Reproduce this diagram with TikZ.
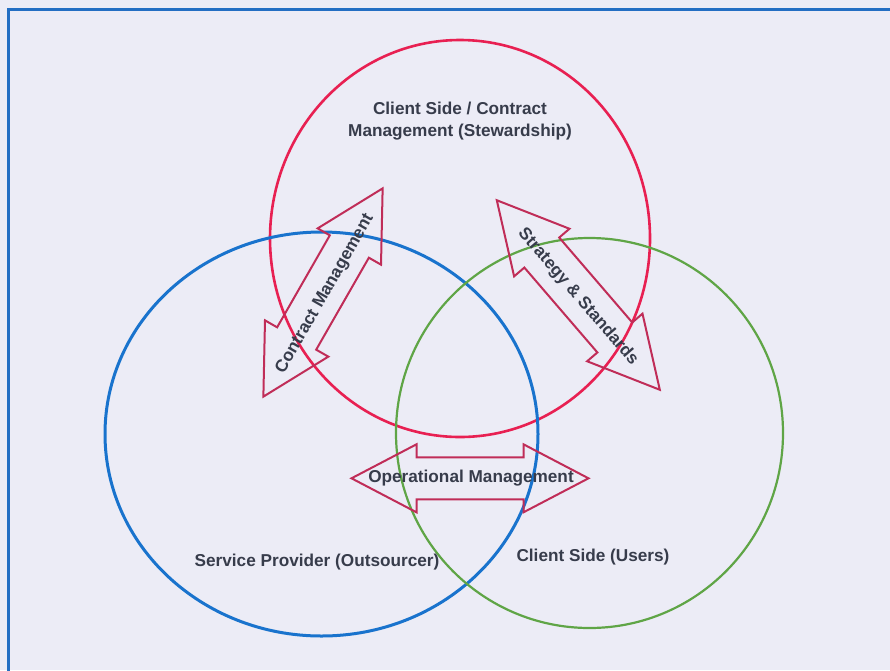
\documentclass[tikz,border=0pt]{standalone}
\usepackage{fontspec}
\setmainfont{Liberation Sans}
\definecolor{paper}{RGB}{236,236,246}
\definecolor{frameblue}{RGB}{35,110,195}
\definecolor{ringred}{RGB}{232,32,82}
\definecolor{ringblue}{RGB}{25,115,205}
\definecolor{ringgreen}{RGB}{95,165,70}
\definecolor{arrowred}{RGB}{192,45,88}
\definecolor{labelgrey}{RGB}{55,60,75}
% outline of a double-headed block arrow centred on the origin:
% #1 total length, #2 head length, #3 head width, #4 shaft width
\newcommand\blockarrowoutline[4]{%
  \draw[arrowline] (-#1/2,0) -- (-#1/2+#2,-#3/2) -- (-#1/2+#2,-#4/2)
    -- (#1/2-#2,-#4/2) -- (#1/2-#2,-#3/2) -- (#1/2,0)
    -- (#1/2-#2,#3/2) -- (#1/2-#2,#4/2) -- (-#1/2+#2,#4/2)
    -- (-#1/2+#2,#3/2) -- cycle;}
\begin{document}
\begin{tikzpicture}[x=1pt,y=-1pt,
  ring/.style={line width=2.6pt},
  arrowline/.style={draw=arrowred,line width=2pt,line join=miter},
  label/.style={text=labelgrey,font=\fontsize{17.2}{21.5}\selectfont\bfseries,
    align=center,inner sep=0pt}]
  % page and frame
  \useasboundingbox (0,0) rectangle (890,670);
  \clip (0,0) rectangle (890,670);
  \fill[paper] (0,0) rectangle (890,670);
  \draw[frameblue,line width=3pt] (8,9) rectangle (910,690);

  % the three overlapping areas
  \draw[ring,ringred] (460,238.5) ellipse [x radius=190,y radius=198.5];
  \draw[ring,ringblue,line width=3pt] (321.5,434) ellipse [x radius=216.5,y radius=202];
  \draw[ring,ringgreen,line width=2.2pt] (589.5,433) ellipse [x radius=193.5,y radius=195];

  % area titles
  \node[label] (steward) at (460,121) {Client Side / Contract\\Management (Stewardship)};
  \node[label] (provider) at (317,562) {Service Provider (Outsourcer)};
  \node[label] (users) at (593,557) {Client Side (Users)};

  % relations between the areas
  \begin{scope}[shift={(323,292.5)},rotate=60.2]
    \blockarrowoutline{240}{67}{73}{45}
  \end{scope}
  \node[label,rotate=60.2] (contract) at (325,294) {Contract Management};

  \begin{scope}[shift={(578.3,295)},rotate=-49.3]
    \blockarrowoutline{250}{69}{73}{46}
  \end{scope}
  \node[label,rotate=-49.3] (strategy) at (578,297) {Strategy \& Standards};

  \begin{scope}[shift={(470,478.3)}]
    \blockarrowoutline{237}{65}{68}{42}
  \end{scope}
  \node[label] (operational) at (471,478) {Operational Management};
\end{tikzpicture}
\end{document}
